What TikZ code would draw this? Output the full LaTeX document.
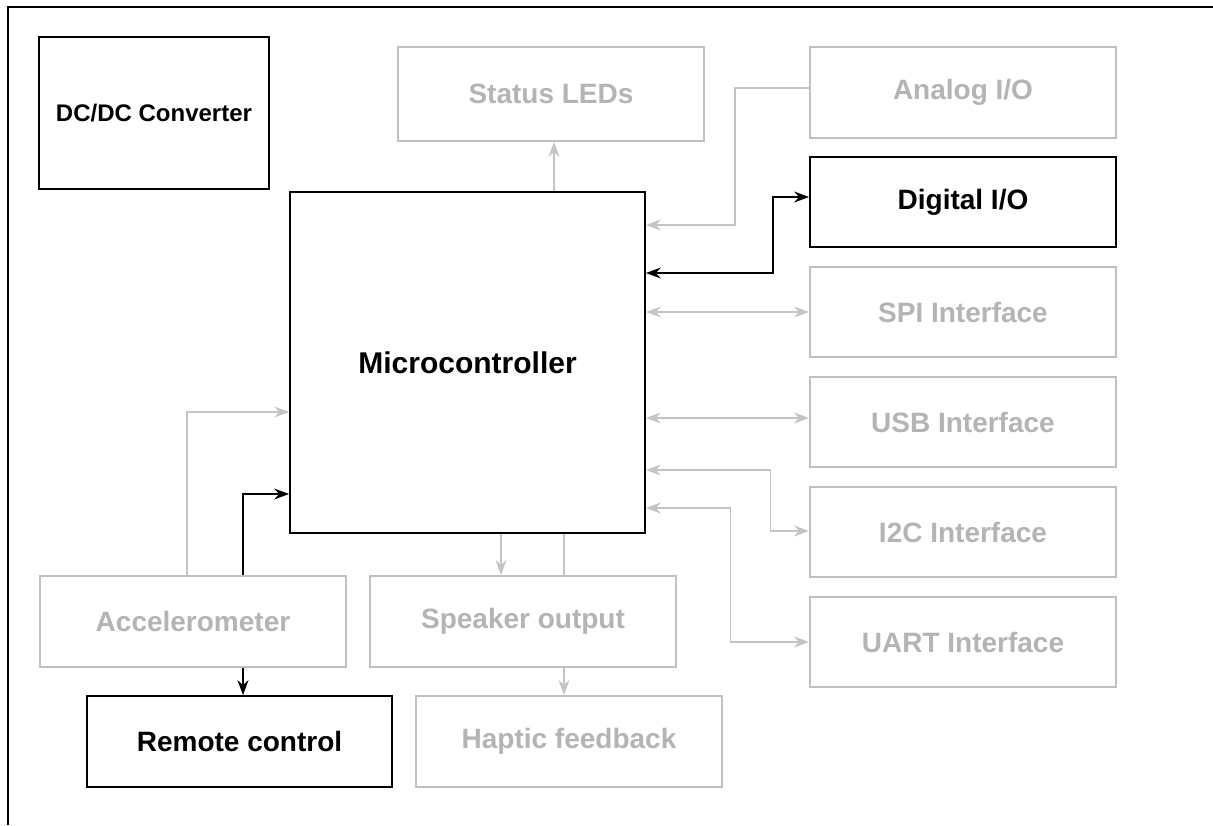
\documentclass[tikz,border=0pt]{standalone}
\usepackage{fontspec}
\setmainfont{Liberation Sans}
\usetikzlibrary{arrows.meta,calc}
\definecolor{gbord}{RGB}{192,192,192}
\definecolor{gtext}{RGB}{180,180,180}
\definecolor{gline}{RGB}{196,196,196}
\begin{document}
\begin{tikzpicture}[x=1pt,y=-1pt,
  tip/.tip={Stealth[length=15pt,width=11pt,inset=5pt]},
  bbox/.style={draw=black,line width=1.8pt,fill=white,inner sep=0pt,
    font=\fontsize{28}{30}\selectfont\bfseries,text=black},
  gbox/.style={draw=gbord,line width=2pt,fill=white,inner sep=0pt,
    font=\fontsize{28}{30}\selectfont\bfseries,text=gtext},
  bcon/.style={draw=black,line width=1.2pt},
  gcon/.style={draw=gline,line width=1.1pt},
]
\useasboundingbox (0,0) rectangle (1213,825);
\draw[line width=1.5pt] (8,825) -- (8,7) -- (1213,7);

% nodes
\node[bbox,minimum width=230,minimum height=152,font=\fontsize{24}{26}\selectfont\bfseries] (dcdc) at (154,113) {DC/DC Converter};
\node[gbox,minimum width=306,minimum height=94] (leds) at (551,94) {Status LEDs};
\node[gbox,minimum width=306,minimum height=91] (analog) at (963,92.5) {Analog I/O};
\node[bbox,minimum width=306,minimum height=90] (digital) at (963,202) {Digital I/O};
\node[gbox,minimum width=306,minimum height=90] (spi) at (963,312) {SPI Interface};
\node[gbox,minimum width=306,minimum height=90] (usb) at (963,422) {USB Interface};
\node[gbox,minimum width=306,minimum height=90] (i2c) at (963,532) {I2C Interface};
\node[gbox,minimum width=306,minimum height=90] (uart) at (963,642) {UART Interface};
\node[bbox,minimum width=355,minimum height=341,font=\fontsize{30}{32}\selectfont\bfseries] (mc) at (467.5,362.5) {Microcontroller};
\node[gbox,minimum width=306,minimum height=91] (accel) at (193,621.5) {Accelerometer};
\node[gbox,minimum width=306,minimum height=91] (speaker) at (523,621.5) {Speaker output};
\node[bbox,minimum width=305,minimum height=91] (remote) at (239.5,741.5) {Remote control};
\node[gbox,minimum width=306,minimum height=91] (haptic) at (569,741.5) {Haptic feedback};

% helper coordinates on node borders
\coordinate (ledsin) at ([xshift=3pt]leds.south);
\coordinate (rt) at ([xshift=3.5pt]remote.north);
\coordinate (sp) at ([xshift=-22pt]speaker.north);
\coordinate (hp) at ([xshift=-5pt]haptic.north);
\coordinate (usbin) at ([yshift=4pt]usb.west);

% connectors (gray)
\draw[gcon,-tip] (mc.north -| ledsin) -- (ledsin);
\draw[gcon,-tip] ([yshift=4.5pt]analog.west) -- ++(-74,0) |- ([yshift=137.5pt]mc.east);
\draw[gcon,tip-tip] (mc.east |- spi.west) -- (spi.west);
\draw[gcon,tip-tip] (mc.east |- usbin) -- (usbin);
\draw[gcon,tip-tip] ([yshift=-107.5pt]mc.east) -- ++(125,0) |- ([yshift=1pt]i2c.west);
\draw[gcon,tip-tip] ([yshift=-145.5pt]mc.east) -- ++(85,0) |- (uart.west);
\draw[gcon,-tip] ([xshift=-6pt]accel.north) |- ([yshift=-49.5pt]mc.west);
\draw[gcon,-tip] (mc.south -| sp) -- (sp);
\draw[gcon] (mc.south -| hp) -- (speaker.north -| hp);
\draw[gcon,-tip] (speaker.south -| hp) -- (hp);

% connectors (black)
\draw[bcon,tip-tip] ([yshift=89.5pt]mc.east) -- ++(127,0) |- ([yshift=5pt]digital.west);
\draw[bcon,-tip] (accel.north -| rt) |- ([yshift=-131.5pt]mc.west);
\draw[bcon,-tip] (accel.south -| rt) -- (rt);
\end{tikzpicture}
\end{document}
